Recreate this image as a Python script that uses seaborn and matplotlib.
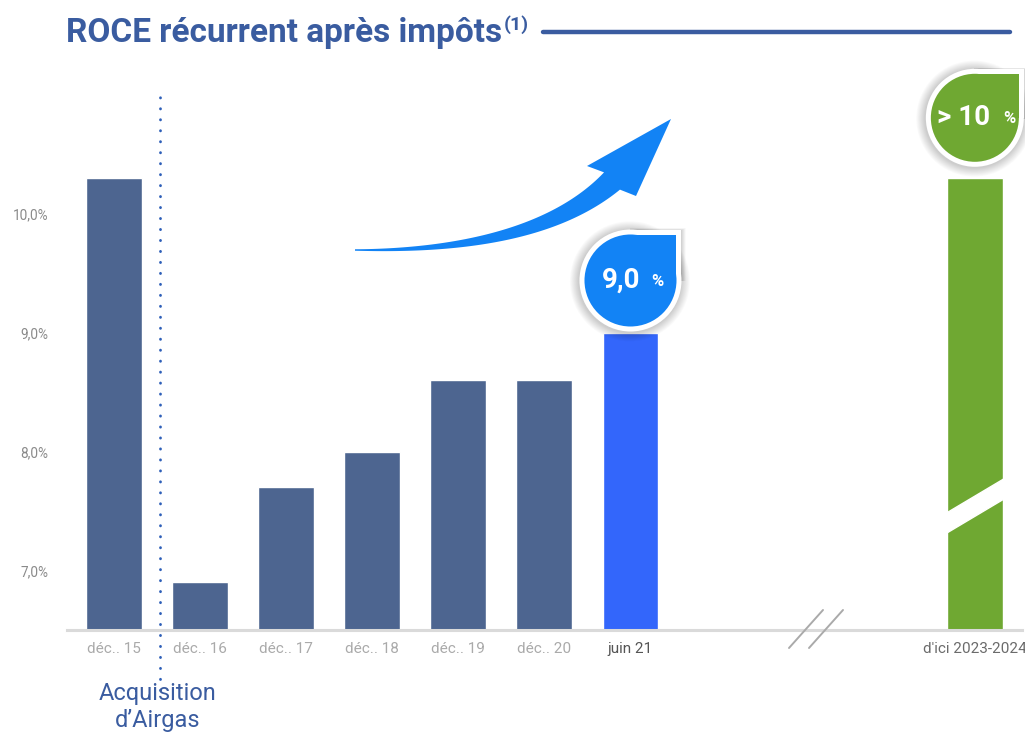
import matplotlib
matplotlib.use("Agg")
import matplotlib.pyplot as plt
import seaborn as sns
import pandas as pd
import numpy as np
from matplotlib.patches import Circle, Rectangle, Polygon
from matplotlib.lines import Line2D

# data
categories = ["déc.. 15", "déc.. 16", "déc.. 17", "déc.. 18", "déc.. 19", "déc.. 20",
              "juin 21", "d'ici 2023-2024"]
values = [10.3, 6.9, 7.7, 8.0, 8.6, 8.6, 9.0, 10.3]
gap_slots = ["", " ", "  "]  # empty slots before the target bar
ytick_values = [7, 8, 9, 10]
ytick_labels = ["7,0%", "8,0%", "9,0%", "10,0%"]

W, H = 1025, 732
TITLE_BLUE = "#3a5ca0"

sns.set_theme(style="white")
plt.rcParams['font.family'] = ['Roboto', 'DejaVu Sans']

fig = plt.figure(figsize=(W / 100, H / 100), dpi=100)
ax = fig.add_axes([66.6 / W, (H - 630) / H, 955.6 / W, 571.2 / H])

df = pd.DataFrame({"periode": categories, "roce": values})
order = categories[:7] + gap_slots + categories[7:]
palette = {c: "#4d6590" for c in categories}
palette["juin 21"] = "#3366fb"
palette[categories[-1]] = "#6fa832"

sns.barplot(data=df, x="periode", y="roce", hue="periode", order=order,
            palette=palette, width=0.65, saturation=1, legend=False, ax=ax)

ax.set_xlim(-0.55, 10.55)
ax.set_ylim(6.5, 11.3)
ax.set_yticks(ytick_values, ytick_labels)
ax.set_xlabel("")
ax.set_ylabel("")
for s in ["top", "right", "left"]:
    ax.spines[s].set_visible(False)
ax.spines["bottom"].set_color("#dadada")
ax.spines["bottom"].set_linewidth(2.2)
ax.tick_params(axis="y", length=0, pad=13, labelsize=9.8, labelcolor="#8a8a8a")
ax.tick_params(axis="x", length=0, pad=8.5, labelsize=11)
for lab in ax.get_xticklabels():
    t = lab.get_text()
    if t == "juin 21":
        lab.set_color("#555555")
    elif t.startswith("d'ici"):
        lab.set_color("#6b6b6b")
    else:
        lab.set_color("#aaaaaa")

# Airgas acquisition marker
ax.plot([0.535, 0.535], [6.0, 11.04], color="#2e5fb8", lw=2,
        linestyle=(0, (0.1, 3.85)), dash_capstyle="round", clip_on=False)
ax.text(0.51, 6.06, "Acquisition\nd\u2019Airgas", ha="center", va="top",
        fontsize=17, color=TITLE_BLUE, linespacing=1.18, clip_on=False)

# white break through the target bar
gx = len(order) - 1
ax.fill([gx - 0.36, gx + 0.36, gx + 0.36, gx - 0.36],
        [7.30, 7.61, 7.78, 7.47], color="white", zorder=5)

# pixel helpers (y measured from top)
def px(x, y):
    return x / 100, (H - y) / 100

tr = fig.dpi_scale_trans

# axis break marks
for x0 in (789, 809):
    a, b = px(x0, 648)
    c, d = px(x0 + 34, 610)
    fig.add_artist(Line2D([a, c], [b, d], color="#aaaaaa", lw=1.4, transform=tr))

# curved arrow
P0, P1, P2 = np.array([355, 250.]), np.array([535, 252.]), np.array([612, 181.])
t = np.linspace(0, 1, 80)[:, None]
pts = (1 - t) ** 2 * P0 + 2 * (1 - t) * t * P1 + t ** 2 * P2
der = 2 * (1 - t) * (P1 - P0) + 2 * t * (P2 - P1)
nrm = np.column_stack([-der[:, 1], der[:, 0]]) / np.linalg.norm(der, axis=1)[:, None]
w = (1.5 + 22 * t[:, 0] ** 1.2) / 2
plus = pts + nrm * w[:, None]
minus = pts - nrm * w[:, None]
head = np.array([[636, 196], [671, 119], [587, 166]])
poly = np.vstack([plus, head, minus[::-1]])
poly_in = np.array([px(x, y) for x, y in poly])
fig.add_artist(Polygon(poly_in, closed=True, color="#1283f5", transform=tr, lw=0))


# drop-shaped value badges
def badge(idx, value, r, color, rise, main, main_dx, pct_dx):
    bx, by = ax.transData.transform((idx, value))
    cx, cy = bx / 100, (by + rise) / 100
    R, ring = r / 100, 5 / 100
    sx, sy = cx - 0.006, cy - 0.008
    for k in range(10, 0, -1):
        e = ring + k * 0.9 / 100
        fig.add_artist(Circle((sx, sy), R + e, color="#000000",
                              alpha=0.02, transform=tr, lw=0))
        fig.add_artist(Rectangle((sx, sy), R + ring + k * 0.5 / 100, R + ring + k * 0.2 / 100,
                                 color="#000000", alpha=0.02, transform=tr, lw=0))
    fig.add_artist(Circle((cx, cy), R + ring, color="white", transform=tr, lw=0))
    fig.add_artist(Rectangle((cx, cy), R + ring, R + ring, color="white", transform=tr, lw=0))
    fig.add_artist(Circle((cx, cy), R, color=color, transform=tr, lw=0))
    fig.add_artist(Rectangle((cx, cy), R, R, color=color, transform=tr, lw=0))
    fig.text(cx + main_dx / 100, cy, main, transform=tr, ha="center", va="center",
             fontsize=20, fontweight="bold", color="white")
    fig.text(cx + pct_dx / 100, cy - 0.01, "%", transform=tr, ha="center", va="center",
             fontsize=12, fontweight="bold", color="white")


badge(6, values[6], 46, "#1283f5", 52, "9,0", -9, 27)
badge(gx, values[-1], 44, "#6fa832", 60, "> 10", -11, 35)

# title with superscript and rule
tx, ty = px(66, 42)
title = fig.text(tx, ty, "ROCE récurrent après impôts", transform=tr, ha="left",
                 va="baseline", fontsize=24, fontweight="bold", color=TITLE_BLUE)
fig.canvas.draw()
bb = title.get_window_extent()
sup = fig.text(bb.x1 / 100 + 0.02, ty + 0.12, "(1)", transform=tr, ha="left",
               va="baseline", fontsize=14, fontweight="bold", color=TITLE_BLUE)
fig.canvas.draw()
sb = sup.get_window_extent()
a, b = px(0, 32)
fig.add_artist(Line2D([sb.x1 / 100 + 0.14, 10.10], [b, b], color=TITLE_BLUE, lw=3.2,
                      transform=tr))

fig.savefig("out.png", dpi=100)
